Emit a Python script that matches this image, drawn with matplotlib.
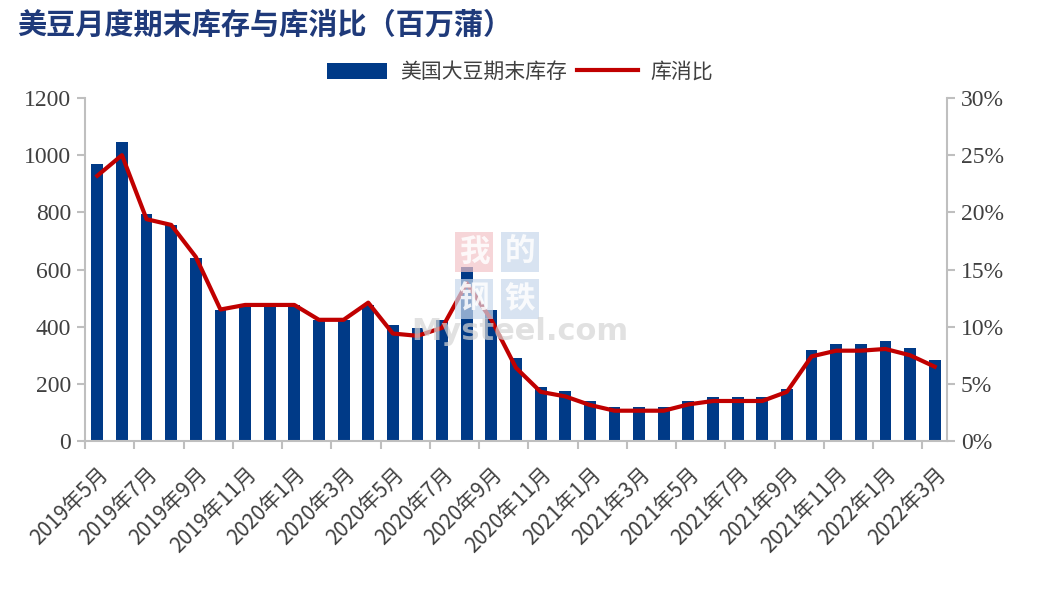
import numpy as np
import matplotlib.pyplot as plt
from matplotlib.ticker import FuncFormatter, FixedLocator

plt.rcParams['font.family'] = ['Noto Sans CJK SC', 'DejaVu Sans']

# 数据：2019年5月 - 2022年3月
months = []
for y in range(2019, 2023):
    for m in range(1, 13):
        if (y, m) >= (2019, 5) and (y, m) <= (2022, 3):
            months.append(f"{y}年{m}月")

stocks = [970, 1046, 794, 756, 641, 458, 476, 476, 476, 423, 423, 475,
          406, 395, 423, 609, 458, 290, 189, 175, 140, 119, 119, 119,
          140, 154, 154, 154, 182, 318, 339, 339, 350, 325, 283]
ratio = [23.2, 25.0, 19.4, 18.9, 16.1, 11.5, 11.9, 11.9, 11.9, 10.6, 10.6, 12.1,
         9.4, 9.2, 9.9, 13.8, 10.6, 6.4, 4.3, 3.9, 3.15, 2.65, 2.65, 2.65,
         3.2, 3.5, 3.5, 3.5, 4.3, 7.4, 7.9, 7.9, 8.05, 7.5, 6.5]

bar_color = '#003A87'
line_color = '#C00000'
grey = '#BFBFBF'
text_grey = '#404040'

fig = plt.figure(figsize=(10.44, 5.9), dpi=100)
ax = fig.add_axes([85 / 1044, 1 - 441 / 590, (947 - 85) / 1044, (441 - 98) / 590])
ax2 = ax.twinx()

x = np.arange(len(months))
ax.bar(x, stocks, width=0.48, color=bar_color, label='美国大豆期末库存', zorder=2)
ax2.plot(x, ratio, color=line_color, lw=3, label='库消比', zorder=3)

ax.set_xlim(-0.5, len(months) - 0.5)
ax.set_ylim(0, 1200)
ax.set_yticks(range(0, 1201, 200))
ax2.set_ylim(0, 30)
ax2.set_yticks(range(0, 31, 5))
ax2.yaxis.set_major_formatter(FuncFormatter(lambda v, p: f"{int(v)}%"))

# x轴：每两个月一个标签，刻度线位于类别边界
ax.xaxis.set_major_locator(FixedLocator(x[::2]))
ax.set_xticklabels(months[::2], rotation=45, ha='right', rotation_mode='anchor',
                   fontsize=15, color=text_grey, family=['Noto Sans CJK SC', 'DejaVu Sans'])
ax.tick_params(axis='x', which='major', length=0, pad=16)
ax.xaxis.set_minor_locator(FixedLocator(np.arange(-0.5, len(months), 2)))
ax.tick_params(axis='x', which='minor', length=6, color=grey, width=1.5)

for a in (ax, ax2):
    for s in a.spines.values():
        s.set_visible(False)
    a.tick_params(axis='y', length=6, color=grey, width=1.5, labelsize=17,
                  labelcolor=text_grey, pad=4)
    for lab in a.get_yticklabels():
        lab.set_family('Liberation Serif')
ax.spines['left'].set_visible(True)
ax.spines['bottom'].set_visible(True)
ax2.spines['right'].set_visible(True)
for s in (ax.spines['left'], ax.spines['bottom'], ax2.spines['right']):
    s.set_color(grey)
    s.set_linewidth(1.5)

# 水印
wm = [('我', 452, 230, '#F3C4C8'), ('的', 498, 230, '#C8D8EC'),
      ('钢', 452, 277, '#C8D8EC'), ('铁', 498, 277, '#C8D8EC')]
for ch, px, py, c in wm:
    fig.text((px + 22) / 1044, 1 - (py + 22) / 590, ch, fontsize=22, color='white',
             ha='center', va='center', fontweight='bold', alpha=0.85, zorder=0,
             bbox=dict(boxstyle='square,pad=0.12', fc=c, ec='none', alpha=0.7))
fig.text(520 / 1044, 1 - 332 / 590, 'Mysteel.com', fontsize=22, color='#D5D5D5',
         alpha=0.7, ha='center', va='center', fontweight='bold',
         family='DejaVu Sans', zorder=5)

fig.text(17 / 1044, 1 - 25 / 590, '美豆月度期末库存与库消比（百万蒲）', fontsize=21,
         fontweight='bold', color='#1F3A7A', va='center', ha='left')

h1, l1 = ax.get_legend_handles_labels()
h2, l2 = ax2.get_legend_handles_labels()
fig.legend(h1 + h2, l1 + l2, loc='center', bbox_to_anchor=(520 / 1044, 1 - 72 / 590),
           ncol=2, frameon=False, fontsize=15, handlelength=2.9, handleheight=0.8,
           columnspacing=0.5, handletextpad=0.6, labelcolor=text_grey)

fig.savefig('out.png', dpi=100)
